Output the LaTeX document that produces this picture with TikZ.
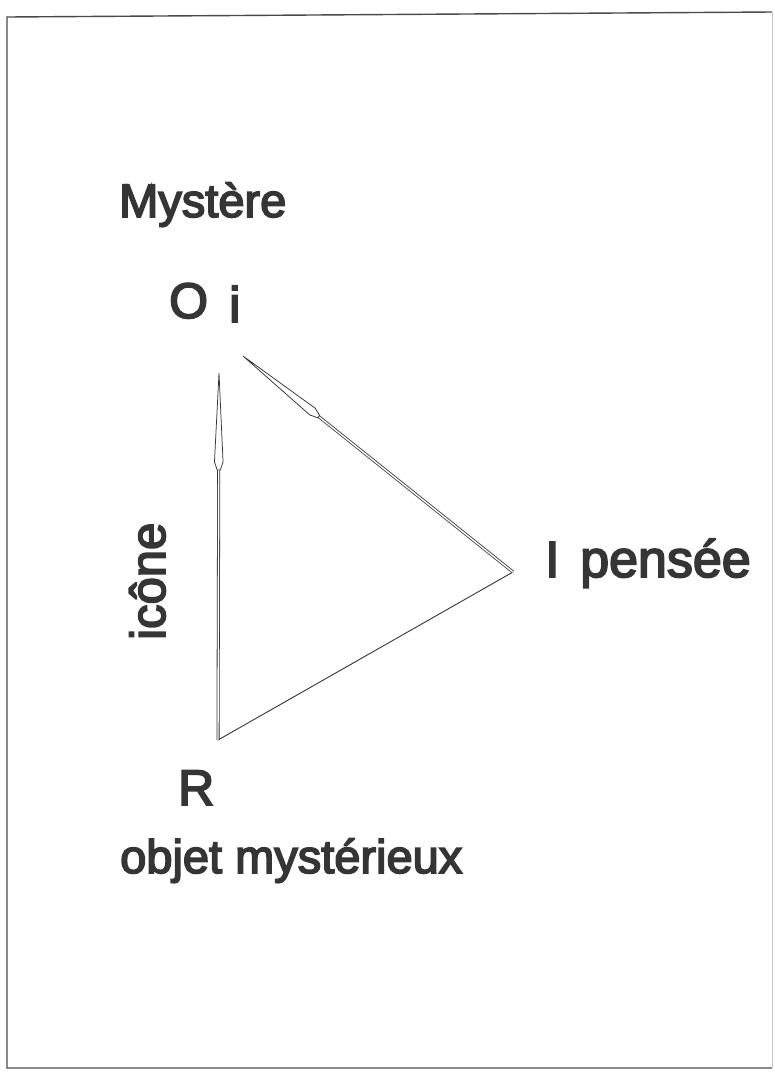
\documentclass[tikz,border=0pt]{standalone}
\usepackage{fontspec}
\setmainfont{Liberation Sans}
\newfontfamily\hvfont{Liberation Sans}[FakeBold=3.5]
\usetikzlibrary{calc}
\definecolor{ink}{HTML}{353535}
\definecolor{frameink}{HTML}{4A4A4A}
\definecolor{faint}{HTML}{C8C8C8}
\newcommand\fsz[1]{\hvfont\fontsize{#1}{#1}\selectfont}
\begin{document}
\begin{tikzpicture}[x=1pt,y=-1pt,
  lbl/.style={font=\fsz{50}, text=ink, inner sep=0pt, anchor=base west},
  shaft/.style={draw=ink, double=white, double distance=1.4pt, line width=0.8pt},
  headline/.style={draw=ink, fill=white, line width=0.75pt, line join=miter},
  thinline/.style={draw=ink, line width=0.9pt}]
\useasboundingbox (0,0) rectangle (775,1072);
% frame
\draw[frameink, line width=1.4pt] (772,12) -- (7,17) -- (7,1068) -- (772,1068);
\draw[faint, line width=0.8pt] (772,12) -- (772,1068);
% vertices
\coordinate (R) at (218,740);
\coordinate (I) at (513,572);
\coordinate (Ta) at (219,373);
\coordinate (Tb) at (243,356);
% bottom edge
\draw[thinline] (R) -- (I);
% arrows with long heads
\foreach \t/\b/\n in {Ta/R/a, Tb/I/b}{
  \coordinate (W\n) at ($(\t)!89pt!(\b)$);
  \coordinate (N\n) at ($(\t)!97pt!(\b)$);
  \coordinate (WL\n) at ($(W\n)!4.3pt!90:(\b)$);
  \coordinate (WR\n) at ($(W\n)!4.3pt!-90:(\b)$);
  \coordinate (NL\n) at ($(N\n)!1.5pt!90:(\b)$);
  \coordinate (NR\n) at ($(N\n)!1.5pt!-90:(\b)$);
  \draw[shaft] (\b) -- (N\n);
  \draw[headline] (\t) -- (WL\n) -- (NL\n) -- (NR\n) -- (WR\n) -- cycle;
}
% labels
\node[lbl, font=\fsz{47}] (mystere) at (119,217) {Mystère};
\node[lbl] (O) at (169,318) {O};
\node[lbl] (i) at (229,322) {i};
\node[lbl, font=\fsz{51}] (Ilbl) at (545,577) {I};
\node[lbl, font=\fsz{52}] (pensee) at (580,577) {pensée};
\node[lbl, rotate=90, font=\fsz{49}] (icone) at (165,640) {icône};
\node[lbl] (Rlbl) at (178,805) {R};
\node[lbl, font=\fsz{47}] (objet) at (120,873) {objet mystérieux};
\end{tikzpicture}
\end{document}
